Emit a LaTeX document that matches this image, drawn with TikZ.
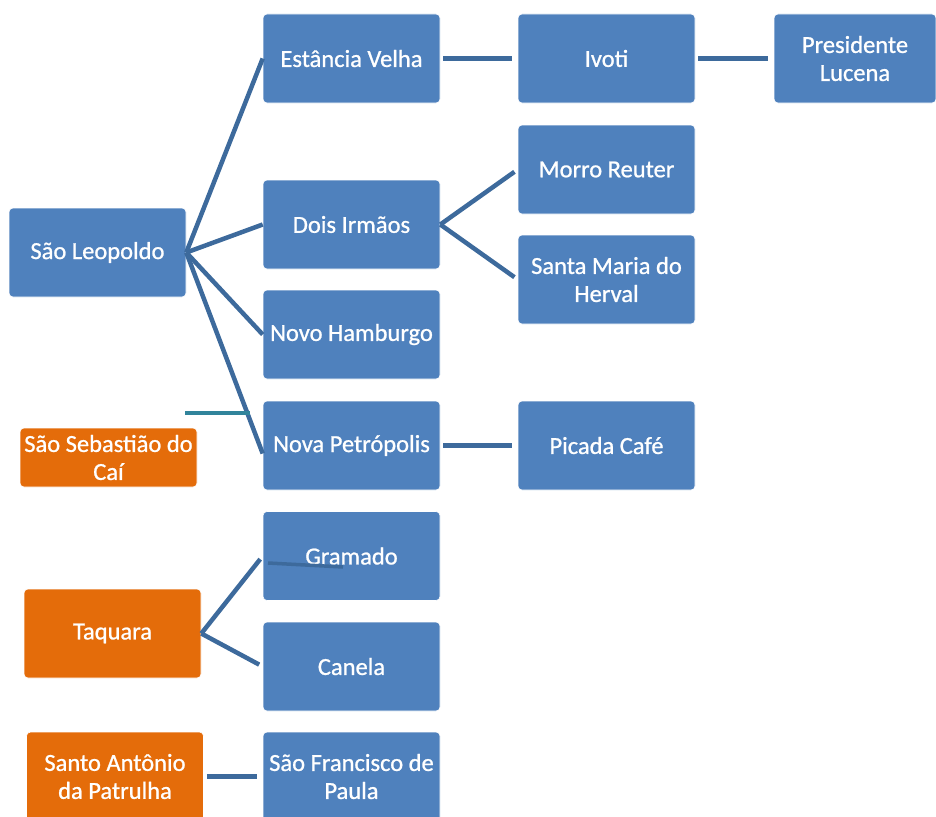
\documentclass[tikz,border=0pt]{standalone}
\usepackage{fontspec}
\setmainfont{Carlito}
\newfontfamily\boxfont{Carlito}[FakeBold=0.9]
\usetikzlibrary{positioning}

\begin{document}
\begin{tikzpicture}[x=1pt, y=-1pt, line width=4.5pt, line cap=butt,
                    every edge/.style={draw, color=linkblue}]
    \definecolor{boxblue}{HTML}{4F81BD}
    \definecolor{boxorange}{HTML}{E46C0A}
    \definecolor{linkblue}{HTML}{3D6A9C}
    \definecolor{linkteal}{HTML}{31849B}
    \tikzstyle{city}=[rectangle, rounded corners=4pt, fill=boxblue,
                      draw=white, line width=0.6pt, text=white,
                      minimum width=177pt, minimum height=89pt,
                      inner sep=1pt, align=center,
                      font=\boxfont\fontsize{24.5}{28}\selectfont]
    \tikzstyle{hub}=[city, fill=boxorange]

    \useasboundingbox (0,0) rectangle (936,816);
    \clip (0,0) rectangle (936,816);

    \node[city] (leo)  at (97.5,252.5)  {São Leopoldo};
    \node[city] (ev)   at (351.5,58.5)  {Estância Velha};
    \node[city] (iv)   at (606.5,58.5)  {Ivoti};
    \node[city, minimum width=162pt]
                (pl)   at (855,58.5)    {Presidente\\Lucena};
    \node[city] (di)   at (351.5,224.5) {Dois Irmãos};
    \node[city] (mr)   at (606.5,169.5) {Morro Reuter};
    \node[city] (smh)  at (606.5,279.5) {Santa Maria do\\Herval};
    \node[city] (nh)   at (351.5,334.5) {Novo Hamburgo};
    \node[city] (np)   at (351.5,445.5) {Nova Petrópolis};
    \node[city] (pc)   at (606.5,445.5) {Picada Café};
    \node[hub, minimum height=59pt]
                (ssc)  at (108.5,457.5) {São Sebastião do\\Caí};
    \node[city] (gr)   at (351.5,556)   {Gramado};
    \node[city] (ca)   at (351.5,666.5) {Canela};
    \node[hub]  (tq)   at (112.5,633.5) {Taquara};
    \node[hub]  (sap)  at (115,776.5)   {Santo Antônio\\da Patrulha};
    \node[city] (sfp)  at (351.5,776.5) {São Francisco de\\Paula};

    \coordinate (tA) at (185,413);
    \coordinate (tB) at (250,413);
    \coordinate (gA) at (268,563);
    \coordinate (gB) at (343,567);

    \path (leo.east) edge                  (ev.west);
    \path (leo.east) edge                  (di.west);
    \path (leo.east) edge                  (nh.west);
    \path (leo.east) edge                  ([yshift=-8pt]np.west);
    \path (ev)       edge [shorten <=3pt, shorten >=6pt] (iv);
    \path (iv)       edge [shorten <=3pt, shorten >=6pt] (pl);
    \path (di.east)  edge [shorten >=4pt]  (mr.west);
    \path (di.east)  edge [shorten >=4pt]  (smh.west);
    \path (np)       edge [shorten <=3pt, shorten >=6pt] (pc);
    \path (tq.east)  edge [shorten >=4pt]  (gr.west);
    \path (tq.east)  edge [shorten >=4pt]  (ca.west);
    \path (sap)      edge [shorten <=3pt, shorten >=6pt] (sfp);

    \path (tA) edge [color=linkteal] (tB);
    \path (gA) edge [line width=3.5pt] (gB);
\end{tikzpicture}
\end{document}
